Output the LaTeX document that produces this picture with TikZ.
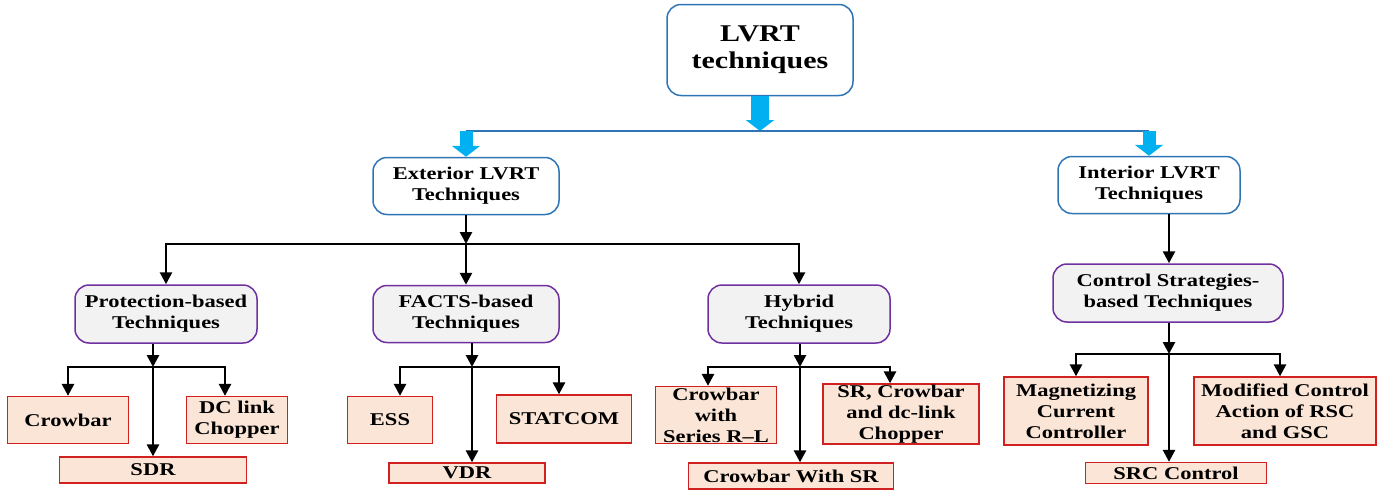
\documentclass[tikz,border=0pt]{standalone}
\usepackage{fontspec}
\setmainfont{Liberation Serif}[FakeStretch=1.25]
\usetikzlibrary{arrows.meta}
\definecolor{lvblue}{HTML}{2E75B6}
\definecolor{lvcyan}{HTML}{00B0F0}
\definecolor{lvpurple}{HTML}{7030A0}
\definecolor{lvgrey}{HTML}{F2F2F2}
\definecolor{lvpeach}{HTML}{FBE5D6}
\definecolor{lvred}{HTML}{D02020}
\begin{document}
\begin{tikzpicture}[
    x=1pt, y=-1pt,
    every node/.style={align=center, inner sep=0pt, font=\fontsize{18}{21}\selectfont\bfseries},
    mainbox/.style={draw=lvblue, line width=1.5pt, rounded corners=14pt, fill=white},
    groupbox/.style={draw=lvpurple, line width=1.5pt, rounded corners=14pt, fill=lvgrey},
    leafbox/.style={draw=lvred, line width=1.3pt, fill=lvpeach},
    arr/.style={draw, line width=2.6pt, -{Triangle[width=12pt,length=12pt]}},
    bigarr/.style={draw=lvcyan, line width=#1, -{Triangle[width=28pt,length=11pt]}},
    bus/.style={draw=lvblue, line width=2pt}
]
\useasboundingbox (0,0) rectangle (1384,490);

\node[mainbox, minimum width=186pt, minimum height=91pt, font=\fontsize{24}{27}\selectfont\bfseries] (lvrt) at (760,50) {LVRT\\techniques};
\node[mainbox, minimum width=186pt, minimum height=57pt] (ext) at (466,186) {Exterior LVRT\\Techniques};
\node[mainbox, minimum width=182pt, minimum height=57pt] (int) at (1149,185) {Interior LVRT\\Techniques};

\node[groupbox, minimum width=182pt, minimum height=58pt] (prot) at (166,314) {Protection-based\\Techniques};
\node[groupbox, minimum width=186pt, minimum height=57pt] (facts) at (466,314) {FACTS-based\\Techniques};
\node[groupbox, minimum width=182pt, minimum height=58pt] (hyb) at (799,314) {Hybrid\\Techniques};
\node[groupbox, minimum width=230pt, minimum height=58pt] (ctrl) at (1168,293) {Control Strategies-\\based Techniques};

\node[leafbox, minimum width=121pt, minimum height=47pt] (crow) at (68,420) {Crowbar};
\node[leafbox, minimum width=101pt, minimum height=47pt] (dc) at (237,420) {DC link\\Chopper};
\node[leafbox, minimum width=187pt, minimum height=26pt] (sdr) at (153,470) {SDR};
\node[leafbox, minimum width=85pt, minimum height=47pt] (ess) at (390,420) {ESS};
\node[leafbox, minimum width=135pt, minimum height=48pt] (stat) at (564,419) {STATCOM};
\node[leafbox, minimum width=156pt, minimum height=20pt] (vdr) at (467,473) {VDR};
\node[leafbox, minimum width=121pt, minimum height=57pt] (cwith) at (716,415) {Crowbar\\with\\Series R--L};
\node[leafbox, minimum width=156pt, minimum height=60pt] (srcd) at (901,414) {SR, Crowbar\\and dc-link\\Chopper};
\node[leafbox, minimum width=205pt, minimum height=26pt] (cwsr) at (791,476) {Crowbar With SR};
\node[leafbox, minimum width=144pt, minimum height=68pt] (mag) at (1076,411) {Magnetizing\\Current\\Controller};
\node[leafbox, minimum width=182pt, minimum height=68pt] (mod) at (1285,411) {Modified Control\\Action of RSC\\and GSC};
\node[leafbox, minimum width=181pt, minimum height=21pt] (src) at (1176,473) {SRC Control};

\coordinate (busc) at (760,131);
\draw[bigarr=18pt] (lvrt.south) -- (busc);
\draw[bus] (ext.north |- busc) -- (int.north |- busc);
\draw[bigarr=13pt] (ext.north |- busc) -- (ext.north);
\draw[bigarr=13pt] (int.north |- busc) -- (int.north);

\coordinate (ej) at (466,244);
\draw[arr] (ext.south) -- (ej);
\draw[arr] (ej) -| (prot.north);
\draw[arr] (ej) -| (hyb.north);
\draw[arr] (ej) -- (facts.north);

\coordinate (pj) at (153,367);
\draw[arr] (pj |- prot.south) -- (pj);
\draw[arr] (pj) -| (crow.north);
\draw[arr] (pj) -| ([xshift=-12pt]dc.north);
\draw[arr] (pj) -- (sdr.north);

\coordinate (fj) at (472,367);
\draw[arr] (fj |- facts.south) -- (fj);
\draw[arr] (fj) -| ([xshift=10pt]ess.north);
\draw[arr] (fj) -| ([xshift=-5pt]stat.north);
\draw[arr] (fj) -- (fj |- vdr.north);

\coordinate (hj) at (800,367);
\draw[arr] (hj |- hyb.south) -- (hj);
\draw[arr] (hj) -| ([xshift=-8pt]cwith.north);
\draw[arr] (hj) -| ([xshift=-11pt]srcd.north);
\draw[arr] (hj) -- (hj |- cwsr.north);

\coordinate (cj) at (1169,354);
\draw[arr] (cj |- int.south) -- (cj |- ctrl.north);
\draw[arr] (cj |- ctrl.south) -- (cj);
\draw[arr] (cj) -| (mag.north);
\draw[arr] (cj) -| ([xshift=-5pt]mod.north);
\draw[arr] (cj) -- (cj |- src.north);
\end{tikzpicture}
\end{document}
